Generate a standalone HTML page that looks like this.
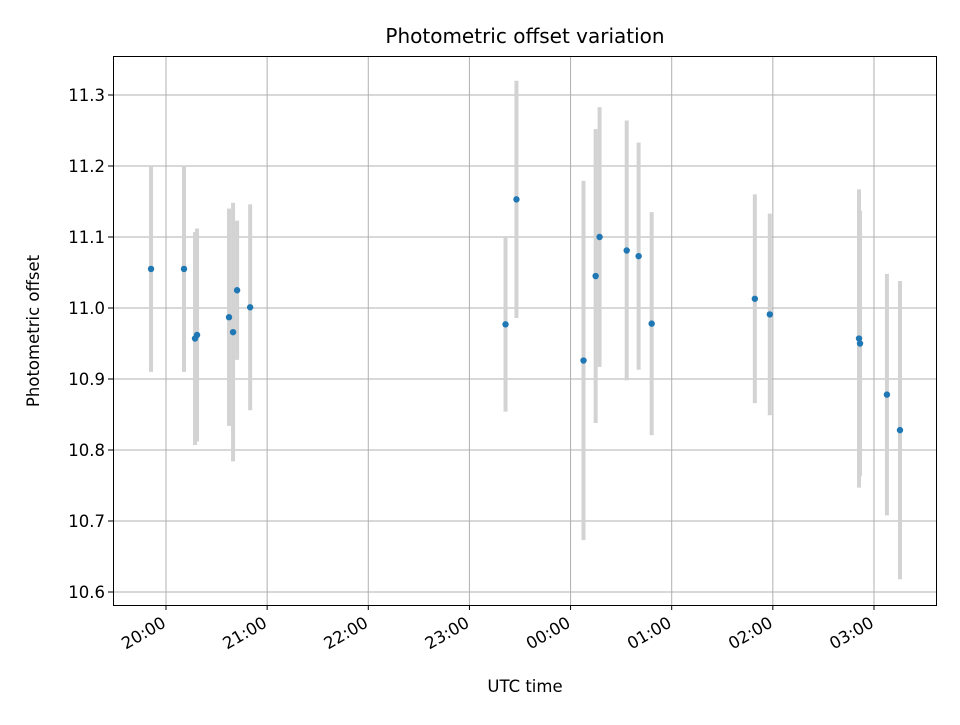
<!DOCTYPE html>
<html><head><meta charset="utf-8"><style>
body{margin:0;background:#fff;font-family:"Liberation Sans","DejaVu Sans",sans-serif;}
svg text{font-family:"DejaVu Sans","Liberation Sans",sans-serif;}
</style></head><body>
<svg id="chart" width="960" height="720" xmlns="http://www.w3.org/2000/svg">
<rect width="960" height="720" fill="#fff"/>
<text x="525" y="43" text-anchor="middle" font-size="20">Photometric offset variation</text>
<text x="525" y="692" text-anchor="middle" font-size="16.5">UTC time</text>
<text x="0" y="0" transform="translate(39,331) rotate(-90)" text-anchor="middle" font-size="16.5">Photometric offset</text>
<g id="grid"></g><g id="err"></g><g id="pts"></g><g id="ticks"></g>
<rect x="113.5" y="56.5" width="823" height="549" fill="none" stroke="#000" stroke-width="1"/>
</svg>
<script>
// hours relative to 20:00 UTC
const times=[-0.148,0.178,0.287,0.307,0.623,0.663,0.703,0.832,3.357,3.465,4.128,4.248,4.287,4.555,4.673,4.802,5.822,5.970,6.852,6.862,7.128,7.257];
const offsets=[11.055,11.055,10.957,10.962,10.987,10.966,11.025,11.001,10.977,11.153,10.926,11.045,11.100,11.081,11.073,10.978,11.013,10.991,10.957,10.950,10.878,10.828];
const errors=[0.145,0.145,0.15,0.15,0.153,0.182,0.098,0.145,0.123,0.167,0.253,0.207,0.183,0.183,0.16,0.157,0.147,0.142,0.21,0.187,0.17,0.21];
const yTicks=[10.6,10.7,10.8,10.9,11.0,11.1,11.2,11.3];
const xTicks=[0,1,2,3,4,5,6,7];
const xTickLabels=["20:00","21:00","22:00","23:00","00:00","01:00","02:00","03:00"];
const NS="http://www.w3.org/2000/svg";
const X=h=>166+h*101.14;
const Y=v=>592-(v-10.6)*710;
function mk(t,a,p){const e=document.createElementNS(NS,t);for(const k in a)e.setAttribute(k,a[k]);p.appendChild(e);return e;}
const grid=document.getElementById('grid'),tk=document.getElementById('ticks');
yTicks.forEach(v=>{
 const y=Y(v);
 const g=mk('line',{x1:113,x2:937,y1:y,y2:y,stroke:'#b0b0b0','stroke-width':1},grid);
 
 
 mk('line',{x1:108,x2:113,y1:y,y2:y,stroke:'#000'},tk);
 const t=mk('text',{x:105,y:y+6,'text-anchor':'end','font-size':16.5},tk);
 
 
 t.textContent=v.toFixed(1);
});
xTicks.forEach((h,i)=>{
 const x=X(h);
 const g=mk('line',{x1:x,x2:x,y1:56,y2:605,stroke:'#b0b0b0','stroke-width':1},grid);
 
 
 mk('line',{x1:x,x2:x,y1:605,y2:610,stroke:'#000'},tk);
 const t=mk('text',{x:0,y:0,'text-anchor':'end','font-size':16.5,transform:`translate(${x+1},${626}) rotate(-30)`},tk);
 
 
 t.textContent=xTickLabels[i];
});
const err=document.getElementById('err'),pts=document.getElementById('pts');
times.forEach((h,i)=>{
 const x=X(h);
 const l=mk('line',{x1:x,x2:x,y1:Y(offsets[i]+errors[i]),y2:Y(offsets[i]-errors[i]),stroke:'#d3d3d3','stroke-width':4},err);
 
 
 const c=mk('circle',{cx:x,cy:Y(offsets[i]),r:3.2,fill:'#1f77b4'},pts);
 
 
});
</script>
</body></html>
